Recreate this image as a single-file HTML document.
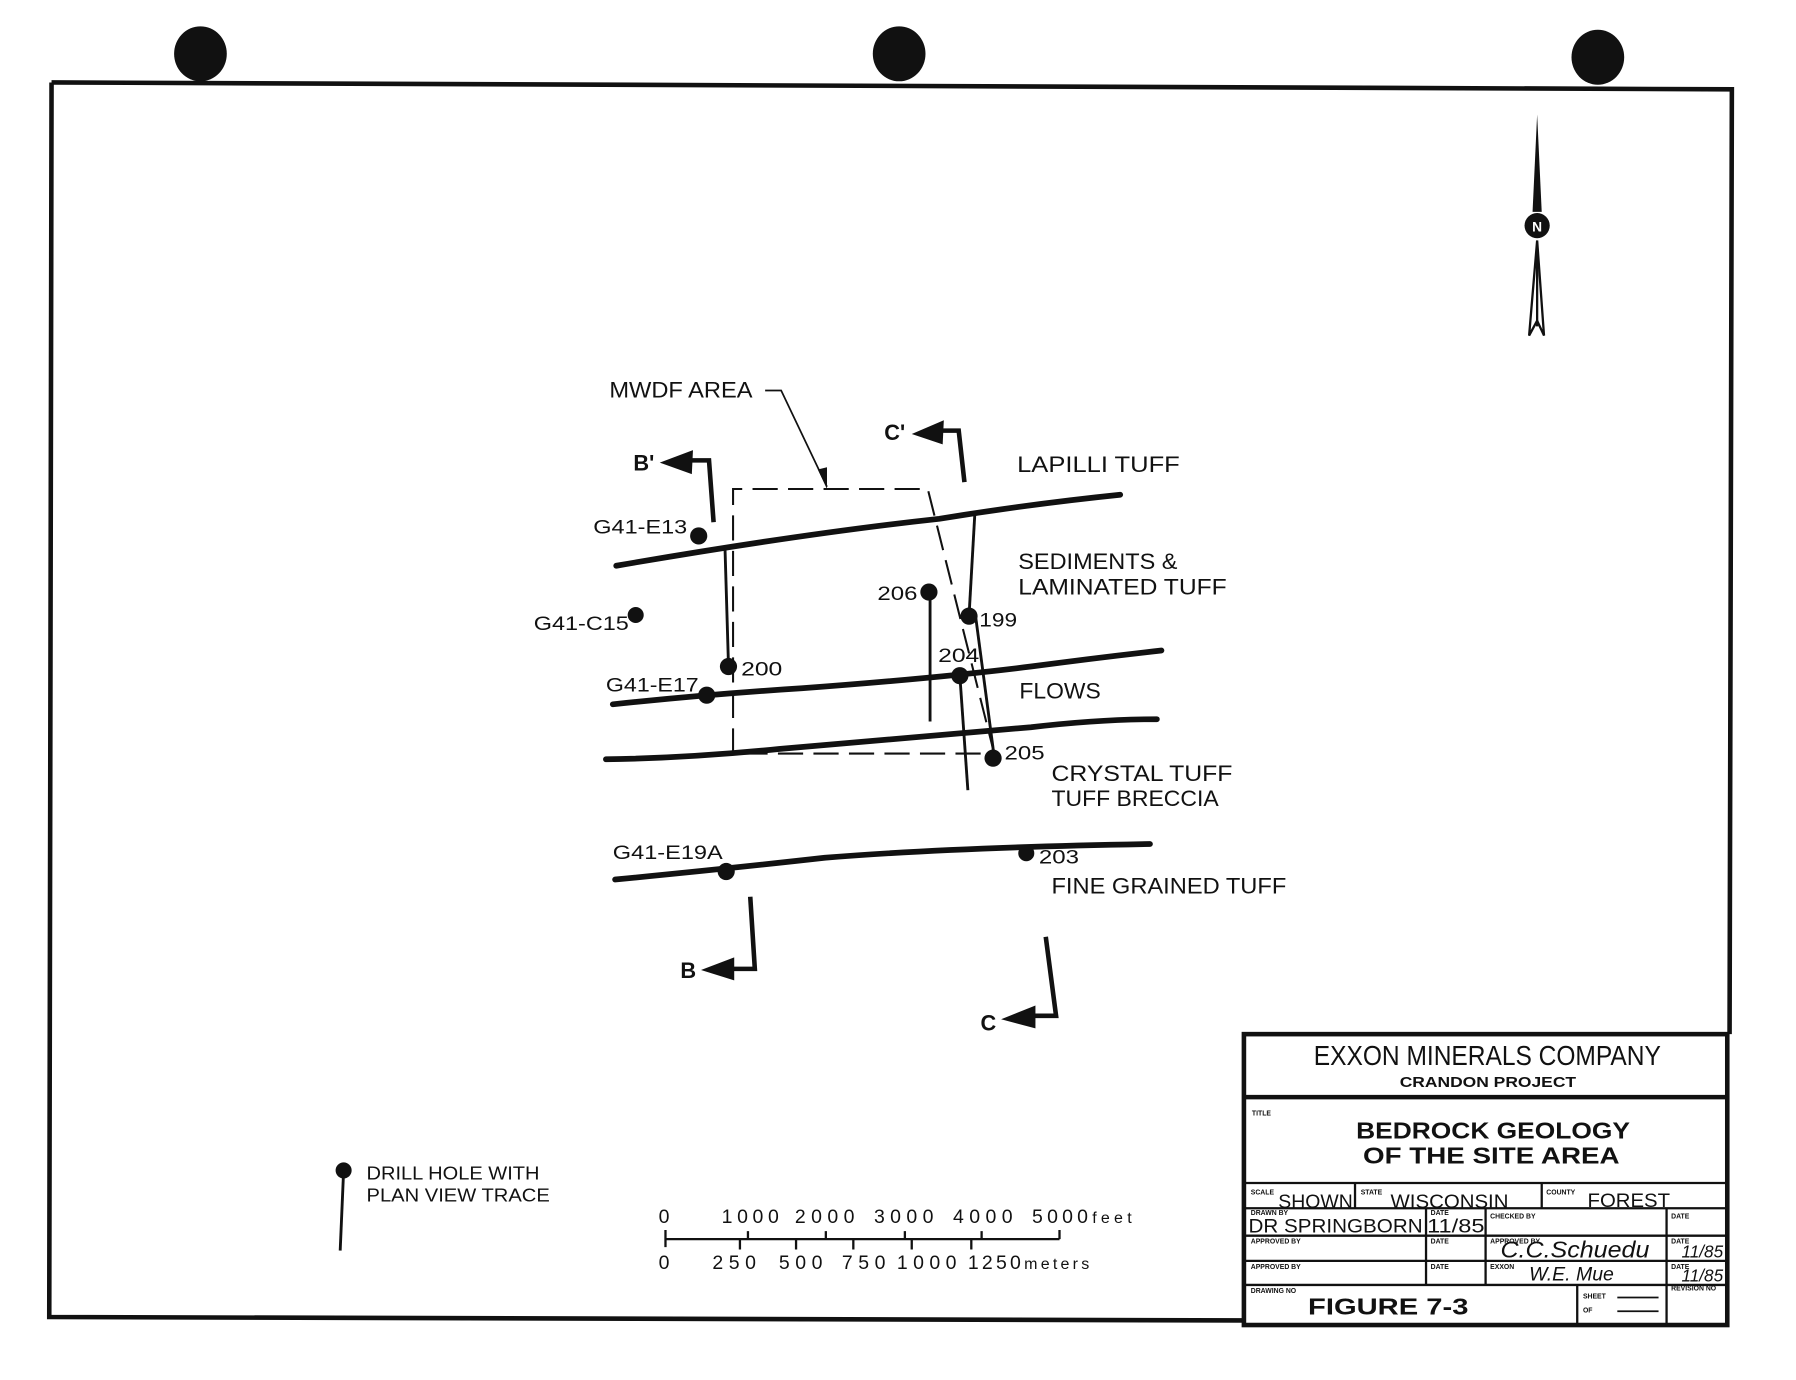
<!DOCTYPE html>
<html><head><meta charset="utf-8"><style>
html,body{margin:0;padding:0;background:#fff;}
svg{display:block;}
text{font-family:"Liberation Sans",sans-serif;fill:#111;}
.b{font-weight:bold;}
.s{font-weight:bold;font-size:6px;}
.h{font-size:17px;}
</style></head><body>
<svg width="1796" height="1380" viewBox="0 0 1568 1205" preserveAspectRatio="none" xmlns="http://www.w3.org/2000/svg">
<rect width="1568" height="1205" fill="#fff"/>
<ellipse cx="175" cy="47" rx="23" ry="24" fill="#111"/>
<ellipse cx="785" cy="47" rx="23" ry="24" fill="#111"/>
<ellipse cx="1395" cy="50" rx="23" ry="24" fill="#111"/>
<g stroke="#111" fill="none">
<path d="M45 72 L1512 78 L1510 903" stroke-width="4"/>
<path d="M45 72 L43 1150 L1087 1153" stroke-width="4"/>
<rect x="1086" y="903" width="422" height="254" stroke-width="4"/>
<line x1="1086" y1="958" x2="1508" y2="958" stroke-width="4"/>
<line x1="1086" y1="1033" x2="1508" y2="1033" stroke-width="2"/>
<line x1="1086" y1="1055" x2="1508" y2="1055" stroke-width="2"/>
<line x1="1086" y1="1079" x2="1508" y2="1079" stroke-width="2"/>
<line x1="1086" y1="1101" x2="1508" y2="1101" stroke-width="2"/>
<line x1="1086" y1="1122" x2="1508" y2="1122" stroke-width="2"/>
<line x1="1183" y1="1033" x2="1183" y2="1055" stroke-width="2"/>
<line x1="1346" y1="1033" x2="1346" y2="1055" stroke-width="2"/>
<line x1="1245" y1="1055" x2="1245" y2="1122" stroke-width="2"/>
<line x1="1297" y1="1055" x2="1297" y2="1122" stroke-width="2"/>
<line x1="1455" y1="1055" x2="1455" y2="1157" stroke-width="2"/>
<line x1="1377" y1="1122" x2="1377" y2="1157" stroke-width="2"/>
<line x1="1412" y1="1133" x2="1448" y2="1133" stroke-width="1.5"/>
<line x1="1412" y1="1145" x2="1448" y2="1145" stroke-width="1.5"/>
</g>
<text x="1147" y="930" font-size="24" textLength="303" lengthAdjust="spacingAndGlyphs">EXXON MINERALS COMPANY</text>
<text x="1222" y="949" class="b" font-size="13" textLength="154" lengthAdjust="spacingAndGlyphs">CRANDON PROJECT</text>
<text x="1093" y="974" class="s">TITLE</text>
<text x="1184" y="994" class="b" font-size="20" textLength="239" lengthAdjust="spacingAndGlyphs">BEDROCK GEOLOGY</text>
<text x="1190" y="1016" class="b" font-size="20" textLength="224" lengthAdjust="spacingAndGlyphs">OF THE SITE AREA</text>
<text x="1092" y="1043" class="s">SCALE</text><text x="1116" y="1055" class="h" textLength="65" lengthAdjust="spacingAndGlyphs">SHOWN</text>
<text x="1188" y="1043" class="s">STATE</text><text x="1214" y="1055" class="h" textLength="103" lengthAdjust="spacingAndGlyphs">WISCONSIN</text>
<text x="1350" y="1043" class="s">COUNTY</text><text x="1386" y="1054" class="h" textLength="72" lengthAdjust="spacingAndGlyphs">FOREST</text>
<text x="1092" y="1061" class="s">DRAWN BY</text><text x="1090" y="1076" class="h" textLength="152" lengthAdjust="spacingAndGlyphs">DR SPRINGBORN</text>
<text x="1249" y="1061" class="s">DATE</text><text x="1246" y="1076" class="h" textLength="50" lengthAdjust="spacingAndGlyphs">11/85</text>
<text x="1301" y="1064" class="s">CHECKED BY</text>
<text x="1459" y="1064" class="s">DATE</text>
<text x="1092" y="1086" class="s">APPROVED BY</text>
<text x="1249" y="1086" class="s">DATE</text>
<text x="1301" y="1086" class="s">APPROVED BY</text>
<text x="1310" y="1098" font-family="Liberation Serif" font-style="italic" font-size="20" textLength="130" lengthAdjust="spacingAndGlyphs">C.C.Schuedu</text>
<text x="1459" y="1086" class="s">DATE</text><text x="1468" y="1098" font-style="italic" font-size="15">11/85</text>
<text x="1092" y="1108" class="s">APPROVED BY</text>
<text x="1249" y="1108" class="s">DATE</text>
<text x="1301" y="1108" class="s">EXXON</text>
<text x="1335" y="1118" font-family="Liberation Serif" font-style="italic" font-size="17">W.E. Mue</text>
<text x="1459" y="1108" class="s">DATE</text><text x="1468" y="1119" font-style="italic" font-size="15">11/85</text>
<text x="1092" y="1129" class="s">DRAWING NO</text>
<text x="1142" y="1148" class="b" font-size="20" textLength="140" lengthAdjust="spacingAndGlyphs">FIGURE 7-3</text>
<text x="1382" y="1134" class="s">SHEET</text>
<text x="1382" y="1146" class="s">OF</text>
<text x="1459" y="1127" class="s">REVISION NO</text>
<path d="M1342 100 L1346 185 L1338 185 Z" fill="#111"/>
<path d="M1342 210 L1348 293 L1342 280 L1335 293 Z" fill="#fff" stroke="#111" stroke-width="2"/>
<path d="M1342 212 L1342 285" stroke="#111" stroke-width="2"/>
<circle cx="1342" cy="197" r="11" fill="#111"/>
<text x="1342" y="202" text-anchor="middle" class="b" font-size="12" style="fill:#fff">N</text>
<g stroke="#111" stroke-width="5" fill="none" stroke-linecap="round">
<path d="M538 494 Q700 466 820 453 Q900 440 978 432"/>
<path d="M535 615 Q620 606 700 601 Q820 592 900 582 Q960 574 1014 568"/>
<path d="M529 663 Q600 662 680 654 Q820 642 900 635 Q960 628 1010 628"/>
<path d="M537 768 Q640 758 720 749 Q830 740 1004 737"/>
</g>
<path d="M640 658 L640 427 L810 427 L868 658 L640 658" stroke="#111" stroke-width="1.8" fill="none" stroke-dasharray="22 9"/>
<path d="M668 341 L682 341 L722 425" stroke="#111" stroke-width="1.5" fill="none"/>
<path d="M722 427 L714 410 L722 408 Z" fill="#111"/>
<g stroke="#111" stroke-width="2.5" fill="none">
<path d="M636 581 L633 480"/>
<path d="M812 517 L812 630"/>
<path d="M846 538 L851 450"/>
<path d="M838 590 L845 690"/>
<path d="M868 661 L852 540"/>
</g>
<g fill="#111">
<circle cx="610" cy="468" r="7.5"/>
<circle cx="555" cy="537" r="7"/>
<circle cx="636" cy="582" r="7.5"/>
<circle cx="617" cy="607" r="7.5"/>
<circle cx="811" cy="517" r="7.5"/>
<circle cx="846" cy="538" r="7.5"/>
<circle cx="838" cy="590" r="7.5"/>
<circle cx="867" cy="662" r="7.5"/>
<circle cx="634" cy="761" r="7.5"/>
<circle cx="896" cy="745" r="7"/>
</g>
<g stroke="#111" stroke-width="4" fill="none">
<path d="M623 456 L619 402 L600 402"/>
<path d="M842 421 L837 376 L820 376"/>
<path d="M655 783 L659 846 L637 846"/>
<path d="M913 818 L922 887 L898 887"/>
</g>
<g fill="#111">
<path d="M576 404 L605 393 L604 414 Z"/>
<path d="M796 379 L824 367 L823 388 Z"/>
<path d="M612 847 L641 836 L641 856 Z"/>
<path d="M874 890 L904 878 L904 898 Z"/>
</g>
<text x="553" y="411" class="b" font-size="19">B'</text>
<text x="772" y="384" class="b" font-size="19">C'</text>
<text x="594" y="854" class="b" font-size="19">B</text>
<text x="856" y="900" class="b" font-size="19">C</text>
<g font-size="19">
<text x="532" y="347" textLength="125" lengthAdjust="spacingAndGlyphs">MWDF AREA</text>
<text x="888" y="412" textLength="142" lengthAdjust="spacingAndGlyphs">LAPILLI TUFF</text>
<text x="889" y="497" textLength="139" lengthAdjust="spacingAndGlyphs">SEDIMENTS &amp;</text>
<text x="889" y="519" textLength="182" lengthAdjust="spacingAndGlyphs">LAMINATED TUFF</text>
<text x="890" y="610" textLength="71" lengthAdjust="spacingAndGlyphs">FLOWS</text>
<text x="918" y="682" textLength="158" lengthAdjust="spacingAndGlyphs">CRYSTAL TUFF</text>
<text x="918" y="704" textLength="146" lengthAdjust="spacingAndGlyphs">TUFF BRECCIA</text>
<text x="918" y="780" textLength="205" lengthAdjust="spacingAndGlyphs">FINE GRAINED TUFF</text>
</g>
<g font-size="17">
<text x="518" y="466" textLength="82" lengthAdjust="spacingAndGlyphs">G41-E13</text>
<text x="466" y="550" textLength="83" lengthAdjust="spacingAndGlyphs">G41-C15</text>
<text x="529" y="604" textLength="81" lengthAdjust="spacingAndGlyphs">G41-E17</text>
<text x="535" y="750" textLength="96" lengthAdjust="spacingAndGlyphs">G41-E19A</text>
<text x="766" y="524" textLength="35" lengthAdjust="spacingAndGlyphs">206</text>
<text x="855" y="547" textLength="33" lengthAdjust="spacingAndGlyphs">199</text>
<text x="647" y="590" textLength="36" lengthAdjust="spacingAndGlyphs">200</text>
<text x="819" y="578" textLength="36" lengthAdjust="spacingAndGlyphs">204</text>
<text x="877" y="663" textLength="35" lengthAdjust="spacingAndGlyphs">205</text>
<text x="907" y="754" textLength="35" lengthAdjust="spacingAndGlyphs">203</text>
</g>
<circle cx="300" cy="1022" r="7" fill="#111"/>
<path d="M300 1022 L297 1092" stroke="#111" stroke-width="2.5"/>
<text x="320" y="1030" font-size="16" textLength="151" lengthAdjust="spacingAndGlyphs">DRILL HOLE WITH</text>
<text x="320" y="1049" font-size="16" textLength="160" lengthAdjust="spacingAndGlyphs">PLAN VIEW TRACE</text>
<g stroke="#111" stroke-width="2" fill="none">
<path d="M581 1082 L925 1082"/>
<path d="M581 1074 L581 1089 M925 1074 L925 1082 M653 1075 L653 1082 M721 1075 L721 1082 M790 1075 L790 1082 M857 1075 L857 1082"/>
<path d="M646 1082 L646 1091 M695 1082 L695 1091 M745 1082 L745 1091 M796 1082 L796 1091 M848 1082 L848 1091"/>
</g>
<g font-size="17">
<text x="575" y="1068">0</text>
<text x="630" y="1068" textLength="50" lengthAdjust="spacing">1000</text>
<text x="694" y="1068" textLength="52" lengthAdjust="spacing">2000</text>
<text x="763" y="1068" textLength="52" lengthAdjust="spacing">3000</text>
<text x="832" y="1068" textLength="52" lengthAdjust="spacing">4000</text>
<text x="901" y="1068" textLength="87" lengthAdjust="spacing">5000<tspan font-size="14">feet</tspan></text>
<text x="575" y="1108">0</text>
<text x="622" y="1108" textLength="38" lengthAdjust="spacing">250</text>
<text x="680" y="1108" textLength="38" lengthAdjust="spacing">500</text>
<text x="735" y="1108" textLength="38" lengthAdjust="spacing">750</text>
<text x="783" y="1108" textLength="52" lengthAdjust="spacing">1000</text>
<text x="845" y="1108" textLength="106" lengthAdjust="spacing">1250<tspan font-size="14">meters</tspan></text>
</g>
</svg>
</body></html>
